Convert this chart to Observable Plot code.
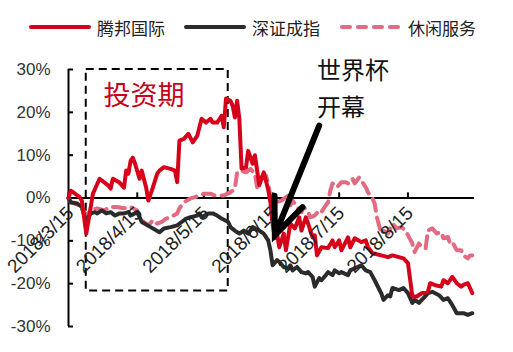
<!DOCTYPE html>
<html><head><meta charset="utf-8">
<script src="https://cdn.jsdelivr.net/npm/d3@7"></script>
<script src="https://cdn.jsdelivr.net/npm/@observablehq/plot@0.6"></script>
<style>
body{margin:0;background:#fff;font-family:"Liberation Sans",Arial,"Noto Sans CJK SC",sans-serif;}
#legend{position:relative;height:50px;width:513px;}
.item{position:absolute;top:16px;height:22px;display:flex;align-items:center;font-family:"Noto Sans CJK SC",sans-serif;font-size:17px;color:#222;}
.item svg{display:block;}
</style></head><body>
<div id="legend"></div>
<div id="chart"></div>
<script>
// ---- data (values in %, dates in 2018 as "m/d") ----
const seriesNames = ["腾邦国际", "深证成指", "休闲服务"];
const seriesColors = ["#d7001a", "#2b2b2b", "#e36a80"];

const redDates = ["3/15","3/16","3/18","3/20","3/21","3/23","3/25","3/26","3/29","4/2","4/3","4/4","4/7","4/9","4/10","4/11","4/12","4/13","4/14","4/16","4/17","4/19","4/20","4/22","4/24","4/25","4/27","4/30","5/2","5/3","5/4","5/6","5/8","5/10","5/12","5/14","5/16","5/18","5/19","5/21","5/23","5/24","5/25","5/27","5/28","5/29","5/30","5/31","6/1","6/3","6/4","6/6","6/7","6/9","6/11","6/13","6/14","6/15","6/16","6/17","6/18","6/20","6/21","6/23","6/25","6/27","6/28","6/30","7/1","7/3","7/4","7/5","7/7","7/10","7/12","7/13","7/15","7/16","7/19","7/20","7/22","7/25","7/27","7/28","7/30","8/3","8/6","8/8","8/13","8/15","8/17","8/19","8/21","8/24","8/25","8/27","8/30","8/31","9/2","9/4","9/6","9/8","9/9","9/11","9/13"];
const redValues = [0,1.7,1.0,0.2,-0.6,-8.3,-2.2,1.0,4.5,2.9,2.2,4.5,3.6,2.4,6.4,5.7,8.7,9.4,8.0,4.5,6.4,2.4,-0.6,2.4,5.7,6.4,7.2,6.8,6.4,3.7,13.4,13.8,15.0,13.0,14.5,18.5,17.6,18.5,17.6,17.6,19.2,16.5,23.2,22.7,21.5,18.8,22.7,18.5,6.9,7.1,11.0,8.0,10.0,3.0,6.0,2.0,-1.0,-6.0,-9.4,-8.3,-11.5,-8.3,-12.2,-6.0,-7.1,-4.5,-7.6,-4.5,-6.0,-9.2,-8.7,-13.4,-11.5,-11.7,-9.9,-11.5,-9.9,-12.2,-9.2,-11.5,-9.4,-10.3,-9.9,-11.5,-12.9,-13.4,-13.8,-13.4,-14.1,-15.2,-23.0,-23.0,-22.3,-21.9,-19.9,-20.3,-20.7,-19.2,-19.9,-18.4,-19.9,-20.7,-20.3,-19.9,-22.2];

const blackDates = ["3/15","3/16","3/19","3/21","3/23","3/24","3/25","3/27","3/28","3/30","4/1","4/3","4/5","4/7","4/9","4/11","4/12","4/15","4/17","4/21","4/25","4/27","4/30","5/3","5/5","5/7","5/9","5/12","5/13","5/14","5/17","5/19","5/21","5/23","5/26","5/27","5/29","5/31","6/2","6/4","6/6","6/9","6/11","6/13","6/14","6/15","6/17","6/18","6/20","6/22","6/23","6/24","6/26","6/28","6/30","7/1","7/3","7/4","7/6","7/7","7/9","7/10","7/12","7/13","7/15","7/16","7/19","7/20","7/22","7/25","7/27","7/29","7/31","8/3","8/4","8/6","8/7","8/8","8/11","8/13","8/15","8/17","8/18","8/20","8/22","8/24","8/26","8/29","8/31","9/2","9/4","9/6","9/9","9/11","9/13"];
const blackValues = [0,-1.0,-1.3,-2.1,-5.6,-4.5,-3.6,-3.3,-3.6,-2.9,-3.6,-3.3,-4.1,-3.6,-3.6,-3.3,-4.1,-3.3,-5.6,-6.8,-8.0,-7.1,-6.8,-6.4,-5.6,-4.8,-4.5,-4.1,-3.6,-4.5,-3.6,-3.6,-4.1,-4.8,-5.6,-6.8,-7.6,-8.3,-7.6,-8.3,-6.8,-7.6,-8.3,-9.9,-12.2,-15.7,-14.5,-14.9,-16.1,-16.4,-15.7,-16.9,-16.1,-17.3,-17.6,-17.3,-18.4,-20.7,-18.7,-19.2,-18.0,-17.3,-18.0,-16.9,-17.6,-17.3,-18.0,-16.9,-16.4,-15.7,-16.9,-17.3,-19.2,-22.3,-23.8,-22.7,-23.0,-21.0,-21.5,-21.0,-22.2,-24.5,-23.8,-24.5,-23.4,-22.2,-21.9,-22.7,-23.8,-23.4,-25.0,-26.9,-26.9,-27.3,-26.9];

const pinkDates = ["3/15","3/16","3/20","3/22","3/23","3/25","3/28","3/31","4/3","4/6","4/9","4/12","4/15","4/16","4/18","4/20","4/22","4/24","4/26","4/28","4/30","5/3","5/4","5/6","5/9","5/11","5/13","5/15","5/18","5/20","5/22","5/24","5/27","5/29","5/30","6/1","6/3","6/5","6/7","6/8","6/10","6/12","6/13","6/14","6/16","6/19","6/22","6/23","6/24","6/26","6/28","6/29","7/1","7/2","7/4","7/6","7/7","7/9","7/10","7/11","7/12","7/14","7/16","7/18","7/19","7/21","7/22","7/24","7/25","7/27","7/28","7/30","7/31","8/1","8/3","8/4","8/6","8/8","8/10","8/12","8/14","8/15","8/17","8/18","8/20","8/21","8/23","8/24","8/26","8/28","8/30","8/31","9/2","9/3","9/4","9/6","9/8","9/9","9/11","9/12","9/13"];
const pinkValues = [0,-1.0,-1.7,-3.3,-4.1,-2.9,-2.4,-2.9,-2.1,-2.1,-2.4,-2.1,-2.9,-4.8,-5.6,-6.4,-5.2,-6.0,-5.6,-4.8,-4.5,-3.6,-2.4,-1.0,-0.1,0.2,0.6,1.0,1.0,0.6,0.6,0.6,1.3,2.2,6.0,6.4,6.0,6.8,5.7,2.5,4.8,5.2,3.4,0.2,-1.0,-0.6,0.6,-1.7,-0.6,-2.1,-3.3,-2.1,-3.3,-4.5,-4.1,-2.9,-3.3,-1.7,-1.0,1.7,3.4,2.5,3.7,3.7,3.4,4.5,3.4,4.8,4.1,2.5,1.3,-0.1,-1.3,-4.5,-8.3,-7.6,-8.3,-6.0,-7.1,-6.8,-7.6,-8.7,-10.6,-12.6,-10.6,-11.5,-11.7,-7.6,-7.1,-8.3,-8.0,-9.4,-9.1,-10.6,-10.3,-12.2,-12.2,-13.4,-14.1,-13.4,-13.4];

const xDomain = ["3/15", "9/14"];
const xTickDates = ["3/15","4/15","5/15","6/15","7/15","8/15"];
const yTicks = [-30,-20,-10,0,10,20,30];

// annotations
const boxDates = ["3/23", "5/26"];
const boxValues = [-21.7, 30];
const investLabel = "投资期";
const investDate = "4/18", investValue = 23.8;
const wcLines = ["世界杯", "开幕"];
const wcDate = "7/5", wcValues = [29.6, 21.0];
const arrowDates = ["7/6", "6/16"];
const arrowValues = [16.9, -8.7];

// ---- build ----
const P = s => { const [m, d] = s.split("/").map(Number); return new Date(2018, m - 1, d); };
const rows = [];
[[redDates, redValues], [blackDates, blackValues], [pinkDates, pinkValues]].forEach(([ds, vs], i) => {
  ds.forEach((d, j) => rows.push({series: seriesNames[i], date: P(d), value: vs[j]}));
});
const bySeries = name => rows.filter(r => r.series === name);

// legend
const legend = document.getElementById("legend");
const legendLeft = [29, 184, 340];
seriesNames.forEach((name, i) => {
  const item = document.createElement("div");
  item.className = "item";
  item.style.left = legendLeft[i] + "px";
  const dash = i === 2 ? 'stroke-dasharray="8,8"' : "";
  item.innerHTML = `<svg width="${i===2?64:62}" height="8"><line x1="2" y1="4" x2="${i===2?62:60}" y2="4" stroke="${seriesColors[i]}" stroke-width="4" stroke-linecap="round" ${dash}/></svg><span style="margin-left:${i===2?4:6}px">${name}</span>`;
  legend.appendChild(item);
});

const fmtTick = d => `2018/${d.getMonth() + 1}/${d.getDate()}`;
const numFont = '"Liberation Sans", Arial, sans-serif';
const cjkFont = '"Noto Sans CJK SC", sans-serif';

const chart = Plot.plot({
  width: 513,
  height: 302,
  marginLeft: 68,
  marginRight: 39,
  marginTop: 19,
  marginBottom: 26,
  style: {fontFamily: numFont, overflow: "visible", background: "white"},
  x: {type: "time", domain: xDomain.map(P), axis: null},
  y: {domain: [-30, 30], axis: null},
  marks: [
    // y axis
    Plot.ruleX([P(xDomain[0])], {y1: -30, y2: 30, stroke: "#000", strokeWidth: 2}),
    Plot.axisY(yTicks, {anchor: "left", tickSize: 5, tickPadding: 18, dx: 5, tickFormat: d => d + "%",
      fontSize: 17, fill: "#333", stroke: "#000", strokeWidth: 2, fontFamily: numFont}),
    // zero line as x axis
    Plot.ruleY([0], {stroke: "#000", strokeWidth: 2}),
    Plot.ruleX(xTickDates.map(P), {y1: 0, y2: 1.2, stroke: "#000", strokeWidth: 2}),
    // dashed box
    Plot.rect([{x1: P(boxDates[0]), x2: P(boxDates[1]), y1: boxValues[0], y2: boxValues[1]}],
      {x1: "x1", x2: "x2", y1: "y1", y2: "y2", fill: "none", stroke: "#000", strokeWidth: 2, strokeDasharray: "8,5"}),
    // series
    Plot.line(bySeries(seriesNames[2]), {x: "date", y: "value", stroke: seriesColors[2], strokeWidth: 4, strokeDasharray: "12,7"}),
    Plot.line(bySeries(seriesNames[1]), {x: "date", y: "value", stroke: seriesColors[1], strokeWidth: 4}),
    Plot.line(bySeries(seriesNames[0]), {x: "date", y: "value", stroke: seriesColors[0], strokeWidth: 4}),
    // x tick labels
    Plot.text(xTickDates.map(P), {x: d => d, y: 0, text: fmtTick, rotate: -45, textAnchor: "end",
      dx: 2, dy: 12, fontSize: 19, fill: "#222", fontFamily: numFont}),
    // annotations
    Plot.text([investLabel], {x: P(investDate), y: investValue, text: d => d, fontSize: 27, fill: "#c8001a", fontFamily: cjkFont}),
    Plot.text(wcLines.map((t, i) => ({t, v: wcValues[i]})), {x: P(wcDate), y: "v", text: "t", textAnchor: "start", fontSize: 24, fill: "#111", fontFamily: cjkFont}),
    Plot.arrow([{x1: P(arrowDates[0]), y1: arrowValues[0], x2: P(arrowDates[1]), y2: arrowValues[1]}],
      {x1: "x1", y1: "y1", x2: "x2", y2: "y2", stroke: "#000", strokeWidth: 6, headLength: 16, headAngle: 45, strokeLinejoin: "miter", strokeMiterlimit: 10})
  ]
});
document.getElementById("chart").appendChild(chart);
</script>
</body></html>
